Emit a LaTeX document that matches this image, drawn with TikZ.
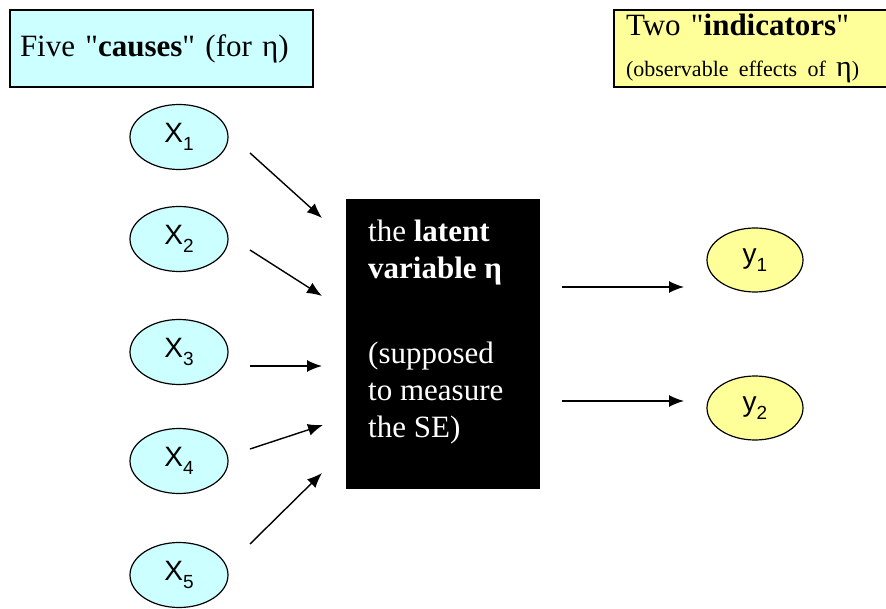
\documentclass[tikz,border=0pt]{standalone}
\usepackage{fontspec}
\setmainfont{Liberation Serif}[Ligatures=TeXOff]
\setsansfont{Liberation Sans}
\usepackage{xcolor}
\usepackage{tikz}
\usetikzlibrary{shapes.geometric, arrows.meta, positioning}
\definecolor{causecyan}{HTML}{CCFFFF}
\definecolor{indyellow}{HTML}{FFFF99}
\newcommand{\subvar}[2]{#1\raisebox{-8pt}{\fontsize{19}{19}\selectfont #2}}
\tikzstyle{arrow} = [-{Latex[length=15pt,width=12pt]}, line width=1.4pt]
\tikzstyle{cause} = [ellipse, draw=black, line width=1.2pt, fill=causecyan, minimum width=98pt, minimum height=65pt, inner sep=0pt, font=\sffamily\fontsize{28}{30}\selectfont]
\tikzstyle{indicator} = [ellipse, draw=black, line width=1.2pt, fill=indyellow, minimum width=96pt, minimum height=64pt, inner sep=0pt, font=\sffamily\fontsize{28}{30}\selectfont]
\tikzstyle{note} = [rectangle, draw=black, line width=2.5pt, minimum height=77pt, align=left, inner ysep=0pt]
\tikzstyle{latent} = [rectangle, fill=black, minimum width=194pt, minimum height=290pt, inner sep=0pt]

\begin{document}
\begin{tikzpicture}[x=1pt, y=-1pt]

  \clip (0,0) rectangle (886,609);

  % Title boxes
  \node (causes) [note, fill=causecyan, text width=283pt, inner xsep=10pt, font=\fontsize{31}{37}\selectfont] at (161.5,48.5) {\raisebox{-3pt}{Five "\textbf{causes}" (for η)}};
  \node (indicators) [note, fill=indyellow, text width=258pt, inner xsep=12pt, font=\fontsize{31}{37}\selectfont] at (755,48.5) {Two "\textbf{indicators}"\\[4pt]\mbox{\fontsize{22}{26}\selectfont (observable effects of {\fontsize{30}{30}\selectfont η})}};

  % Causes
  \node (X1) [cause] at (179,137) {\subvar{X}{1}};
  \node (X2) [cause] at (179,239) {\subvar{X}{2}};
  \node (X3) [cause] at (179,352) {\subvar{X}{3}};
  \node (X4) [cause] at (179,461) {\subvar{X}{4}};
  \node (X5) [cause] at (179,575) {\subvar{X}{5}};

  % Latent variable
  \node (eta) [latent] at (443,344) {};
  \node (etatext) [anchor=north west, text=white, align=left, inner sep=0pt, font=\fontsize{31}{37}\selectfont] at (368,220) {the \textbf{latent}\\\textbf{variable η}\\[48pt](supposed\\to measure\\the SE)};

  % Indicators
  \node (y1) [indicator] at (755,260) {\subvar{y}{1}};
  \node (y2) [indicator] at (755,408) {\subvar{y}{2}};

  % Arrow ends
  \coordinate (x1out) at (250,153);
  \coordinate (x1in) at (322,218);
  \coordinate (x2out) at (250,250);
  \coordinate (x2in) at (322,296);
  \coordinate (x3out) at (250,366);
  \coordinate (x3in) at (322,366);
  \coordinate (x4out) at (250,449);
  \coordinate (x4in) at (323,425);
  \coordinate (x5out) at (250,544);
  \coordinate (x5in) at (322,473);
  \coordinate (etaout1) at (562,287);
  \coordinate (y1in) at (684,287);
  \coordinate (etaout2) at (562,401);
  \coordinate (y2in) at (684,401);

  % Arrows
  \draw[arrow] (x1out) -- (x1in);
  \draw[arrow] (x2out) -- (x2in);
  \draw[arrow] (x3out) -- (x3in);
  \draw[arrow] (x4out) -- (x4in);
  \draw[arrow] (x5out) -- (x5in);
  \draw[arrow] (etaout1) -- (y1in);
  \draw[arrow] (etaout2) -- (y2in);

\end{tikzpicture}
\end{document}
